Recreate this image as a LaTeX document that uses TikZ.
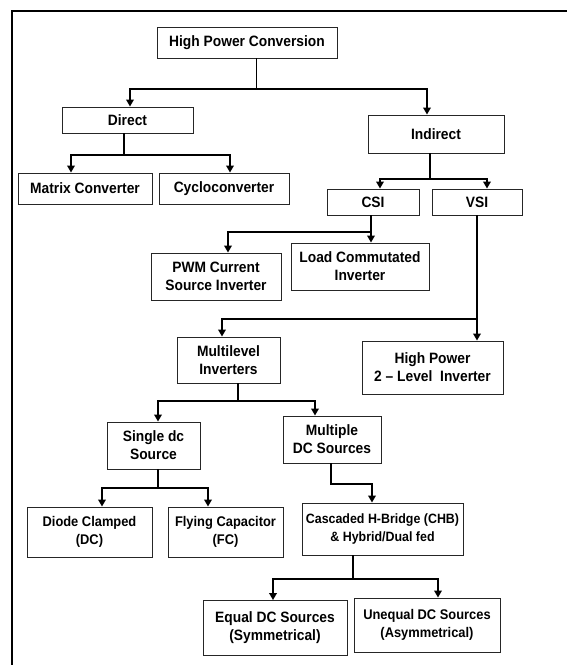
\documentclass[tikz,border=0pt]{standalone}
\usepackage{fontspec}
\setmainfont{Liberation Sans}[FakeStretch=0.92]
\usetikzlibrary{arrows.meta}

\tikzset{
  blk/.style={draw=black!85, line width=0.9pt, align=center, inner sep=1pt,
    font=\bfseries\fontsize{15}{18}\selectfont},
  small/.style={font=\bfseries\fontsize{14}{18}\selectfont},
  stem/.style={line width=1.3pt},
  fork/.style={line width=2.4pt, line join=miter,
    {Triangle[width=7.5pt,length=7pt]}-{Triangle[width=7.5pt,length=7pt]}},
  down/.style={line width=2.4pt, -{Triangle[width=7.5pt,length=7pt]}},
}

\begin{document}
\begin{tikzpicture}[x=1pt,y=-1pt]
\useasboundingbox (0,0) rectangle (567,665);

% frame
\draw[line width=2pt] (11.5,665) -- (11.5,10.7) -- (567,10.7);

% boxes
\node[blk, minimum width=180pt, minimum height=31pt] (hpc) at (247,42.5) {High Power Conversion};
\node[blk, minimum width=131pt, minimum height=26pt] (dir) at (127.5,120) {Direct};
\node[blk, minimum width=136pt, minimum height=38pt] (ind) at (436,134) {Indirect};
\node[blk, minimum width=134pt, minimum height=31pt] (mat) at (85,188.5) {Matrix Converter};
\node[blk, minimum width=130pt, minimum height=31pt] (cyc) at (224,188.5) {Cycloconverter};
\node[blk, minimum width=92pt, minimum height=26pt] (csi) at (373,202) {CSI};
\node[blk, minimum width=90pt, minimum height=26pt] (vsi) at (477,202) {VSI};
\node[blk, minimum width=130pt, minimum height=47pt] (pwm) at (216,276.5) {PWM Current\\Source Inverter};
\node[blk, minimum width=138pt, minimum height=47pt] (lci) at (360,266.5) {Load Commutated\\Inverter};
\node[blk, minimum width=103pt, minimum height=46pt] (mli) at (228.5,360) {Multilevel\\Inverters};
\node[blk, minimum width=141pt, minimum height=53pt] (hp2) at (432.5,367.5) {High Power\\2 -- Level\ \ Inverter};
\node[blk, minimum width=93pt, minimum height=47pt] (sdc) at (153.5,445.5) {Single dc\\Source};
\node[blk, minimum width=98pt, minimum height=47pt] (mdc) at (332,439.5) {Multiple\\DC Sources};
\node[blk, small, minimum width=125pt, minimum height=50pt] (dcl) at (89.5,532) {Diode Clamped\\(DC)};
\node[blk, small, minimum width=115pt, minimum height=50pt] (fcp) at (225.5,532) {Flying Capacitor\\(FC)};
\node[blk, minimum width=161pt, minimum height=52pt, font=\bfseries\fontsize{13.5}{18}\selectfont] (chb) at (382.5,529) {Cascaded H-Bridge (CHB)\\\& Hybrid/Dual fed};
\node[blk, minimum width=144pt, minimum height=55pt] (eqs) at (275,628) {Equal DC Sources\\(Symmetrical)};
\node[blk, small, minimum width=146pt, minimum height=54pt] (uqs) at (427,625) {Unequal DC Sources\\(Asymmetrical)};

% junctions
\coordinate (j1) at (256.7,89);  \coordinate (j1a) at (130,89);    \coordinate (j1b) at (427,89);
\coordinate (j2) at (124,155);   \coordinate (j2a) at (71,155);    \coordinate (j2b) at (230,155);
\coordinate (j3) at (430,179);   \coordinate (j3a) at (380,179);   \coordinate (j3b) at (487,179);
\coordinate (j4) at (371,232);   \coordinate (j4a) at (228,232);
\coordinate (j5) at (477,319);   \coordinate (j5a) at (222,319);
\coordinate (j6) at (238,401);   \coordinate (j6a) at (158,401);   \coordinate (j6b) at (315,401);
\coordinate (j7) at (158,488);   \coordinate (j7a) at (102,488);   \coordinate (j7b) at (208,488);
\coordinate (j8) at (331,484);   \coordinate (j8a) at (372,484);
\coordinate (j9) at (353,579);   \coordinate (j9a) at (273,579);   \coordinate (j9b) at (438,579);

% connectors
\draw[stem] (hpc.south -| j1) -- (j1);
\draw[fork] (j1a |- dir.north) -- (j1a) -- (j1b) -- (j1b |- ind.north);

\draw[stem] (dir.south -| j2) -- (j2);
\draw[fork] (j2a |- mat.north) -- (j2a) -- (j2b) -- (j2b |- cyc.north);

\draw[stem] (ind.south -| j3) -- (j3);
\draw[fork] (j3a |- csi.north) -- (j3a) -- (j3b) -- (j3b |- vsi.north);

\draw[stem] (csi.south -| j4) -- (j4);
\draw[fork] (j4a |- pwm.north) -- (j4a) -- (j4) -- (j4 |- lci.north);

\draw[stem] (vsi.south -| j5) -- (j5);
\draw[fork] (j5a |- mli.north) -- (j5a) -- (j5) -- (j5 |- hp2.north);

\draw[line width=2.4pt] (mli.south -| j6) -- (j6);
\draw[fork] (j6a |- sdc.north) -- (j6a) -- (j6b) -- (j6b |- mdc.north);

\draw[line width=2.4pt] (sdc.south -| j7) -- (j7);
\draw[fork] (j7a |- dcl.north) -- (j7a) -- (j7b) -- (j7b |- fcp.north);

\draw[down] (mdc.south -| j8) -- (j8) -- (j8a) -- (j8a |- chb.north);

\draw[stem] (chb.south -| j9) -- (j9);
\draw[fork] (j9a |- eqs.north) -- (j9a) -- (j9b) -- (j9b |- uqs.north);

\end{tikzpicture}
\end{document}
